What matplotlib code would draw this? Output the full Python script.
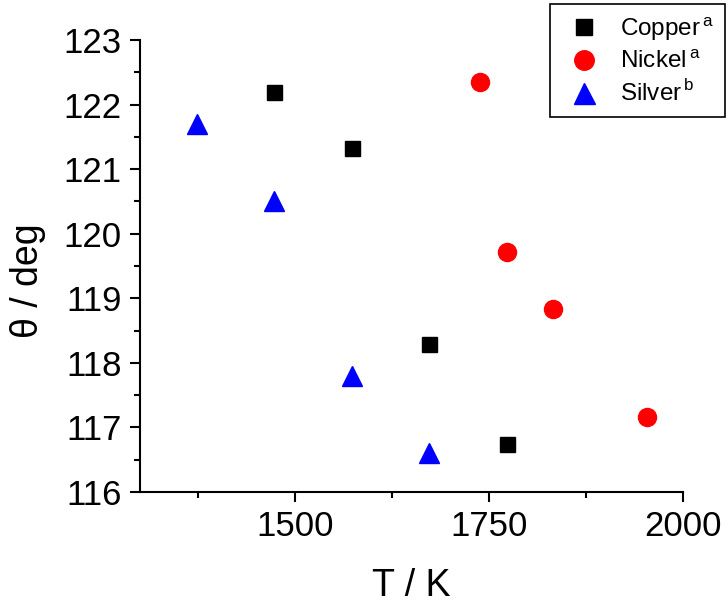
import numpy as np
import matplotlib
matplotlib.use("Agg")
from matplotlib import pyplot as plt
from matplotlib.ticker import MultipleLocator

plt.rcParams['font.family'] = ['Liberation Sans', 'DejaVu Sans']
plt.rcParams['mathtext.fontset'] = 'custom'
plt.rcParams['mathtext.rm'] = 'Liberation Sans'

copper_T = [1473, 1573, 1673, 1773]
copper_theta = [122.2, 121.32, 118.29, 116.75]
nickel_T = [1738, 1773, 1833, 1953]
nickel_theta = [122.35, 119.72, 118.83, 117.16]
silver_T = [1373, 1473, 1573, 1673]
silver_theta = [121.7, 120.5, 117.8, 116.6]

fig = plt.figure(figsize=(7.27, 6.04), dpi=100)
ax = fig.add_axes([0.1926, 0.1854, 0.7469, 0.7484])

ax.plot(copper_T, copper_theta, ls='none', marker='s', ms=10.8, color='black',
        label=r"Copper$^{\,\mathrm{a}}$")
ax.plot(nickel_T, nickel_theta, ls='none', marker='o', ms=13, color='#ff0000',
        label=r"Nickel$^{\,\mathrm{a}}$")
ax.plot(silver_T, silver_theta, ls='none', marker='^', ms=14, color='#0000ff',
        label=r"Silver$^{\,\mathrm{b}}$")

ax.set_xlim(1300, 2000)
ax.set_ylim(116, 123)
ax.xaxis.set_major_locator(MultipleLocator(250))
ax.xaxis.set_minor_locator(MultipleLocator(125))
ax.yaxis.set_major_locator(MultipleLocator(1))
ax.yaxis.set_minor_locator(MultipleLocator(0.5))

for s in ['top', 'right']:
    ax.spines[s].set_visible(False)
for s in ['left', 'bottom']:
    ax.spines[s].set_linewidth(1.5)

ax.tick_params(which='major', direction='out', length=7, width=1.5, labelsize=25, pad=6)
ax.tick_params(which='minor', direction='out', length=4, width=1.5)

ax.set_xlabel("T / K", fontsize=27, labelpad=18)
ax.set_ylabel("θ / deg", fontsize=27)
# label baseline ~ x 46 px, centre ~ y 281 px in the figure
ax.yaxis.set_label_coords((46 - 140) / 543, (492 - 281) / 452)

leg = fig.legend(loc='upper right', bbox_to_anchor=(725 / 727, 1 - 4 / 604),
                 fontsize=17.5, frameon=True, fancybox=False, edgecolor='black',
                 framealpha=1, borderaxespad=0, handletextpad=0.5,
                 labelspacing=0.3, borderpad=0.45, handlelength=1.95,
                 markerscale=1.08)
leg.get_frame().set_linewidth(1.2)

fig.savefig("out.png", dpi=100)
